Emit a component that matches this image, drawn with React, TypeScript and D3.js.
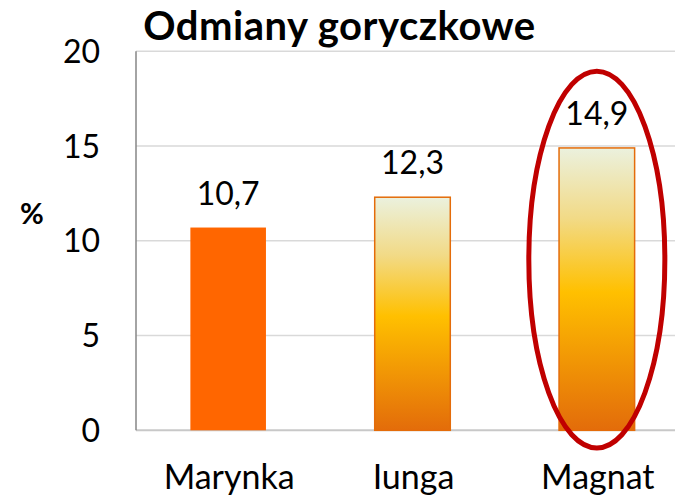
import * as d3 from 'd3';

const categories = ['Marynka', 'Iunga', 'Magnat'];
const values = [10.7, 12.3, 14.9];
const valueLabels = ['10,7', '12,3', '14,9'];
const yTicks = [0, 5, 10, 15, 20];
const gradientBars = [false, true, true];
const highlighted = 'Magnat';
const highlightRange = [-0.93, 18.95];

const W = 675;
const H = 498;
const FONT = 'Lato, "Open Sans", sans-serif';

export default function App() {
  const x = d3.scaleBand<string>()
    .domain(categories)
    .range([136, 689])
    .paddingInner(0.59)
    .paddingOuter(0.295);

  const y = d3.scaleLinear()
    .domain([0, 20])
    .range([430.3, 51.3]);

  const bw = x.bandwidth();
  const hx = (x(highlighted) ?? 0) + bw / 2;
  const hTop = y(highlightRange[1]);
  const hBot = y(highlightRange[0]);

  return (
    <svg width={W} height={H} style={{ position: 'absolute', left: 0, top: 0, background: '#fff' }}>
      <defs>
        <linearGradient id="barGrad" x1="0" y1="0" x2="0" y2="1">
          <stop offset="0%" stopColor="#EBF1DE" />
          <stop offset="25%" stopColor="#F2DA86" />
          <stop offset="51%" stopColor="#FFC000" />
          <stop offset="100%" stopColor="#E36C0A" />
        </linearGradient>
      </defs>

      {/* gridlines */}
      {yTicks.filter(t => t > 0).map(t => (
        <line key={t} x1={136} x2={W} y1={y(t)} y2={y(t)} stroke="#D9D9D9" strokeWidth={1.5} />
      ))}
      <line x1={136} x2={W} y1={y(0)} y2={y(0)} stroke="#C8C8C8" strokeWidth={2} />
      <line x1={136} x2={136} y1={y(20)} y2={y(0)} stroke="#868686" strokeWidth={1.5} />

      {/* y tick labels */}
      {yTicks.map(t => (
        <text key={t} x={100} y={y(t) + 11.5} textAnchor="end" fontFamily={FONT} fontSize={32} fill="#000">
          {t}
        </text>
      ))}
      <text x={32} y={224} textAnchor="middle" fontFamily={FONT} fontSize={29} fontWeight="bold" fill="#000">%</text>

      {/* bars */}
      {categories.map((c, i) => (
        <rect
          key={c}
          x={x(c)}
          y={y(values[i])}
          width={bw}
          height={y(0) - y(values[i])}
          fill={gradientBars[i] ? 'url(#barGrad)' : '#FF6600'}
          stroke={gradientBars[i] ? '#E46C0A' : 'none'}
          strokeWidth={1.5}
        />
      ))}

      {/* value labels */}
      {categories.map((c, i) => (
        <text key={c} x={(x(c) ?? 0) + bw / 2} y={y(values[i]) - 23} textAnchor="middle"
          fontFamily={FONT} fontSize={32} fill="#000">
          {valueLabels[i]}
        </text>
      ))}

      {/* category labels */}
      {categories.map(c => (
        <text key={c} x={(x(c) ?? 0) + bw / 2 + 1} y={489} textAnchor="middle"
          fontFamily={FONT} fontSize={34} fill="#000">
          {c}
        </text>
      ))}

      {/* highlight ellipse */}
      <ellipse cx={hx} cy={(hTop + hBot) / 2} rx={bw * 0.9} ry={(hBot - hTop) / 2}
        fill="none" stroke="#C00000" strokeWidth={5} />

      <text x={339.5} y={40} textAnchor="middle" fontFamily={FONT} fontSize={40} fontWeight="bold"
        letterSpacing={0.5} fill="#000">
        Odmiany goryczkowe
      </text>
    </svg>
  );
}
